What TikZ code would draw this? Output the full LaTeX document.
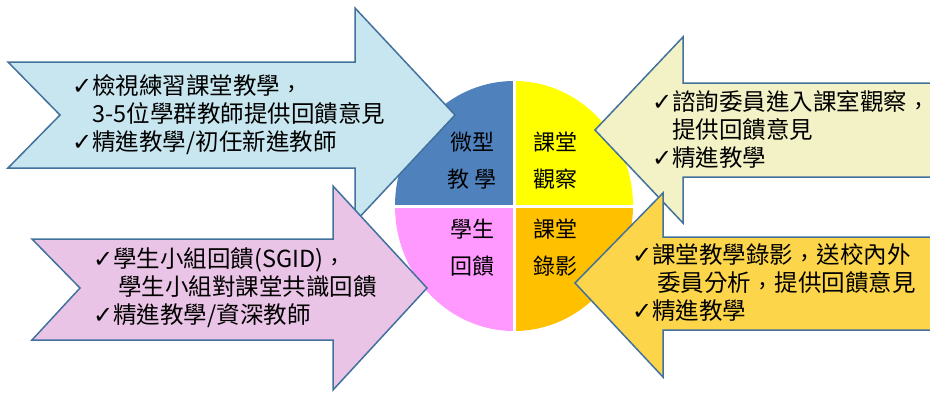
\documentclass[tikz,border=0pt]{standalone}
\usepackage{fontspec}
\setmainfont{Noto Sans CJK TC}
\newfontfamily\symfont{DejaVu Sans}
\definecolor{arrowline}{HTML}{41719C}
\definecolor{skyfill}{HTML}{C8E6EF}
\definecolor{creamfill}{HTML}{F3F2C6}
\definecolor{mauvefill}{HTML}{EAC4E6}
\definecolor{goldfill}{HTML}{FDD54B}
\definecolor{qblue}{HTML}{4F81BD}
\definecolor{qyellow}{HTML}{FFFF00}
\definecolor{qpink}{HTML}{FF99FF}
\definecolor{qorange}{HTML}{FFC000}
\newcommand\chk{{\symfont\fontsize{24}{24}\selectfont ✓}}
\newcommand\indentchk{\phantom{\chk}}
% centred full-width comma, as set in Taiwan
\newcommand\cmm{\makebox[1em][c]{\raisebox{0.25em}{,}}}

\begin{document}
\begin{tikzpicture}[x=1pt, y=-1pt,
    arrowshape/.style={draw=arrowline, line width=1.5pt, line join=miter},
    note/.style={anchor=west, align=left, inner sep=0pt, font=\fontsize{23.5}{28}\selectfont},
    quadlabel/.style={align=center, inner sep=0pt, font=\fontsize{22}{37}\selectfont}]
    \useasboundingbox (0,0) rectangle (930,392);
    \clip (0,0) rectangle (930,392);

    % four quarters of the centre disc
    \coordinate (c) at (514,206);
    \fill[qblue] (c) -- ++(-119,0) arc[start angle=180, end angle=270, x radius=119, y radius=125] -- cycle;
    \fill[qyellow] (c) -- ++(0,-125) arc[start angle=270, end angle=360, x radius=119, y radius=125] -- cycle;
    \fill[qorange] (c) -- ++(119,0) arc[start angle=0, end angle=90, x radius=119, y radius=125] -- cycle;
    \fill[qpink] (c) -- ++(0,125) arc[start angle=90, end angle=180, x radius=119, y radius=125] -- cycle;
    \draw[white, line width=3pt] (c) ++(0,-127) -- ++(0,254);
    \draw[white, line width=3pt] (c) ++(-121,0) -- ++(242,0);

    \node[quadlabel] (micro) at (472,161) {微型\\教\hspace{6pt}學};
    \node[quadlabel] (observe) at (555,161) {課堂\\觀察};
    \node[quadlabel] (student) at (472,248) {學生\\回饋};
    \node[quadlabel] (record) at (555,248) {課堂\\錄影};

    % arrows
    \filldraw[arrowshape, fill=skyfill] (8,62) -- (355,62) -- (355,8) -- (455,115) -- (355,222) -- (355,168) -- (8,168) -- (60,115) -- cycle;
    \filldraw[arrowshape, fill=mauvefill] (32,239) -- (333,239) -- (333,186) -- (427,288) -- (333,390) -- (333,340) -- (32,340) -- (80,288) -- cycle;
    \filldraw[arrowshape, fill=creamfill] (940,83) -- (683,83) -- (683,37) -- (595,130) -- (683,223) -- (683,177) -- (940,177) -- cycle;
    \filldraw[arrowshape, fill=goldfill] (940,237) -- (663,237) -- (663,193) -- (575,283) -- (663,377) -- (663,330) -- (940,330) -- cycle;

    \node[note] (microtxt) at (72,115) {\chk 檢視練習課堂教學\cmm\\\indentchk 3-5位學群教師提供回饋意見\\\chk 精進教學/初任新進教師};
    \node[note] (observetxt) at (652,130) {\chk 諮詢委員進入課室觀察\cmm\\\indentchk 提供回饋意見\\\chk 精進教學};
    \node[note] (studenttxt) at (93,288) {\chk 學生小組回饋(SGID)\cmm\\\indentchk\hspace{5pt}學生小組對課堂共識回饋\\\chk 精進教學/資深教師};
    \node[note] (recordtxt) at (632,283) {\chk 課堂教學錄影\cmm 送校內外\\\indentchk\hspace{5pt}委員分析\cmm 提供回饋意見\\\chk 精進教學};
\end{tikzpicture}
\end{document}
